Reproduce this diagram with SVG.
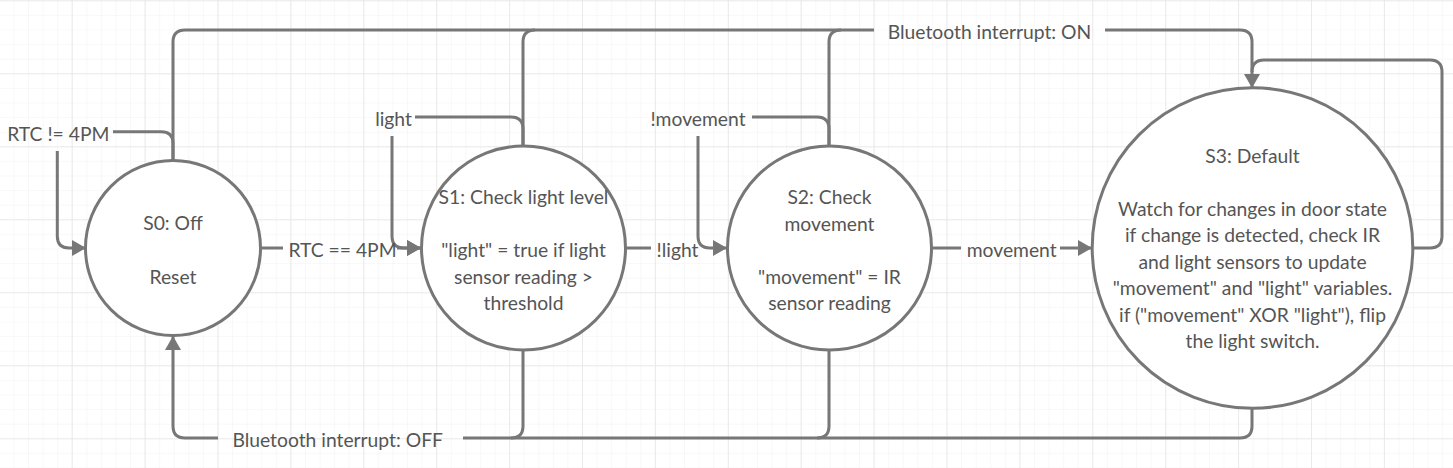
<svg xmlns="http://www.w3.org/2000/svg" width="1453" height="468" viewBox="0 0 1453 468">
<defs>
<pattern id="minor" patternUnits="userSpaceOnUse" x="-1.2" y="0.3" width="14.58" height="14.6">
<path d="M0,0 H14.58 M0,0 V14.6" fill="none" stroke="#f1f1f1" stroke-width="1"/>
</pattern>
<pattern id="major" patternUnits="userSpaceOnUse" x="-1.2" y="0.3" width="72.9" height="73">
<path d="M0,0 H72.9 M0,0 V73" fill="none" stroke="#e6e6e6" stroke-width="1.6"/>
</pattern>
<marker id="arr" viewBox="0 0 14 16" refX="14" refY="8" markerWidth="14" markerHeight="16" markerUnits="userSpaceOnUse" orient="auto">
<path d="M0,0 L14,8 L0,16 Z" fill="#777777"/>
</marker>
<style>
.c{fill:none;stroke:#777777;stroke-width:3;}
.n{fill:#ffffff;stroke:#777777;stroke-width:3;}
text{font-family:Lato,"Liberation Sans",sans-serif;font-size:19.3px;fill:#555555;}
.m{text-anchor:middle;}
</style>
</defs>
<rect width="1453" height="468" fill="#ffffff"/>
<rect width="1453" height="468" fill="url(#minor)"/>
<rect width="1453" height="468" fill="url(#major)"/>

<g id="connectors">
<path class="c" d="M173,161 V42 Q173,30 185,30 H874"/>
<path class="c" d="M523,146 V42 Q523,30 535,30"/>
<path class="c" d="M829,146 V42 Q829,30 841,30"/>
<path class="c" d="M1105,30 H1240 Q1252,30 1252,42 V88" marker-end="url(#arr)"/>
<path class="c" d="M1413,248 H1430 Q1442,248 1442,236 V72 Q1442,60 1430,60 H1264 Q1252,60 1252,72"/>
<path class="c" d="M173,161 V143 Q173,131.7 161,131.7 H113"/>
<path class="c" d="M57.3,151 V236 Q57.3,248 69,248 H86" marker-end="url(#arr)"/>
<path class="c" d="M523,146 V129 Q523,117 511,117 H415"/>
<path class="c" d="M392,136 V236 Q392,248 404,248 H421" marker-end="url(#arr)"/>
<path class="c" d="M829,146 V129 Q829,117 817,117 H752"/>
<path class="c" d="M698,136 V236 Q698,248 710,248 H727" marker-end="url(#arr)"/>
<path class="c" d="M260,248 H283"/>
<path class="c" d="M397,248 H421" marker-end="url(#arr)"/>
<path class="c" d="M626,248 H651"/>
<path class="c" d="M932,248 H961"/>
<path class="c" d="M1060,248 H1092" marker-end="url(#arr)"/>
<path class="c" d="M1252,408 V426 Q1252,438 1240,438 H463"/>
<path class="c" d="M523,350 V426 Q523,438 511,438"/>
<path class="c" d="M829,350 V426 Q829,438 817,438"/>
<path class="c" d="M218,438 H185 Q173,438 173,426 V336" marker-end="url(#arr)"/>
<text x="58.3" y="141" class="m">RTC != 4PM</text>
<text x="393.5" y="126" class="m">light</text>
<text x="698" y="126" class="m">!movement</text>
<text x="989.5" y="39" class="m">Bluetooth interrupt: ON</text>
<text x="337.7" y="447" class="m">Bluetooth interrupt: OFF</text>
<text x="342.5" y="257" class="m">RTC == 4PM</text>
<text x="677.5" y="257" class="m">!light</text>
<text x="1011.7" y="257" class="m">movement</text>
</g>

<g id="S0">
<circle class="n" cx="173" cy="248" r="87.5"/>
<text x="173" y="230" class="m">S0: Off</text>
<text x="173" y="284" class="m">Reset</text>
</g>
<g id="S1">
<circle class="n" cx="523.5" cy="248" r="102"/>
<text x="523.5" y="204" class="m">S1: Check light level</text>
<text x="523.5" y="257" class="m">"light" = true if light</text>
<text x="523.5" y="283.5" class="m">sensor reading &gt;</text>
<text x="523.5" y="310" class="m">threshold</text>
</g>
<g id="S2">
<circle class="n" cx="829.5" cy="248" r="102"/>
<text x="829.5" y="204" class="m">S2: Check</text>
<text x="829.5" y="230.5" class="m">movement</text>
<text x="829.5" y="283.5" class="m">"movement" = IR</text>
<text x="829.5" y="310" class="m">sensor reading</text>
</g>
<g id="S3">
<circle class="n" cx="1252.5" cy="248" r="160.3"/>
<text x="1252.5" y="162.7" class="m">S3: Default</text>
<text x="1252.5" y="215.7" class="m">Watch for changes in door state</text>
<text x="1252.5" y="242.2" class="m">if change is detected, check IR</text>
<text x="1252.5" y="268.7" class="m">and light sensors to update</text>
<text x="1252.5" y="295.2" class="m">"movement" and "light" variables.</text>
<text x="1252.5" y="321.7" class="m">if ("movement" XOR "light"), flip</text>
<text x="1252.5" y="348.2" class="m">the light switch.</text>
</g>
</svg>
